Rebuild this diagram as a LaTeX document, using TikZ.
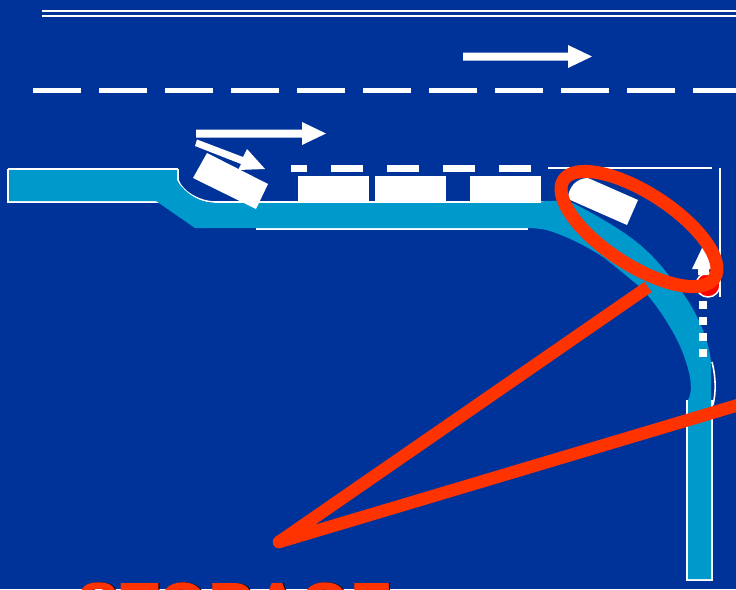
\documentclass[tikz,border=0pt]{standalone}
\usepackage{fontspec}
\setmainfont{Liberation Sans}
\definecolor{bgblue}{HTML}{003399}
\definecolor{road}{HTML}{0099CC}
\definecolor{hot}{HTML}{FF3300}
\definecolor{dotred}{HTML}{FF0000}
\tikzset{
  whiteline/.style={draw=white,line width=2.4pt},
  thinline/.style={draw=white,line width=1.6pt},
  vehicle/.style={fill=white,draw=none},
  lane/.style={draw=white,line width=5.5pt},
  bigarrow/.style={fill=white,draw=none},
  hotline/.style={draw=hot,line width=12.5pt,line join=round},
  captiontext/.style={anchor=base west,inner sep=0pt,font=\bfseries\fontsize{64}{70}\selectfont}
}
\begin{document}
\begin{tikzpicture}[x=1pt,y=-1pt]
\useasboundingbox (0,0) rectangle (736,589);
\clip (0,0) rectangle (736,589);
\fill[bgblue] (0,0) rectangle (736,589);
% top double line
\draw[white,line width=2.8pt] (42,11) -- (736,11);
\draw[white,line width=2.8pt] (42,16) -- (736,16);
% dashed lane
\foreach \a in {33,99,165,231,297,363,429,495,561,627,693}
  \draw[lane] (\a,90.5) -- ++(48,0);
% large arrows
\fill[bigarrow] (463,52.5) -- (568,52.5) -- (568,45) -- (592,56.5) -- (568,68) -- (568,60.5) -- (463,60.5) -- cycle;
\fill[bigarrow] (196,129.5) -- (302,129.5) -- (302,122) -- (326,133.5) -- (302,145) -- (302,137.5) -- (196,137.5) -- cycle;
% road outlines
\draw[whiteline] (8,169) -- (178,169);
\draw[whiteline] (178,202) -- (8,202) -- (8,169);
\draw[thinline] (178,169) -- (178,180) .. controls (182,192) and (200,202) .. (215,202) -- (545,202);
\draw[whiteline] (256,228.8) -- (528,228.8);
\draw[whiteline] (687,400) -- (687,580) -- (712,580) -- (712,400);
\draw[thinline] (712,362) .. controls (716,378) and (716,392) .. (713,405);
% road surface
\fill[road] (9,170) -- (177,170) -- (177,181)
  .. controls (186,194) and (200,203) .. (215,203)
  -- (535,203) .. controls (545,200) and (555,200) .. (573,203)
  .. controls (590,212) and (612,224) .. (630,237)
  .. controls (648,250) and (660,264) .. (670,277)
  .. controls (685,294) and (693,308) .. (700,323)
  .. controls (706,337) and (710,350) .. (711,363)
  -- (711,579) -- (688,579) -- (688,400)
  .. controls (692,392) and (691,385) .. (690,377)
  .. controls (686,358) and (679,342) .. (670,327)
  .. controls (661,312) and (651,298) .. (640,287)
  .. controls (628,277) and (616,267) .. (603,257)
  .. controls (586,246) and (570,238) .. (553,232)
  .. controls (542,228) and (532,228) .. (520,228)
  -- (195,228) -- (156,201) -- (9,201) -- cycle;
% curb dashes
\foreach \a/\b in {291/307,331/363,387/419,443/475,499/531}
  \fill[vehicle] (\a,164.5) rectangle (\b,172);
% parked cars
\foreach \a in {298,375,470}
  \fill[vehicle] (\a,176) rectangle (\a+71,203);
% tilted car and small arrow
\fill[vehicle] (207,153) -- (268,184) -- (256,209) -- (193,178) -- cycle;
\fill[bigarrow] (197,139.5) -- (243,157) -- (247,149) -- (265,169) -- (238,170) -- (241,164) -- (195,146) -- cycle;
% box at the corner
\draw[thinline] (548,168) -- (712,168);
\draw[thinline] (720,168) -- (720,297);
% turning car
\fill[vehicle] (588,178) -- (638,200) -- (627,225) -- (568,199) .. controls (568,188) and (576,178) .. (588,178) -- cycle;
% signal
\draw[draw=white,line width=1.5pt,fill=dotred] (708,285) circle (12);
\fill[bigarrow] (703,246) -- (714,269) -- (709,269) -- (709,275) -- (698,275) -- (698,269) -- (692,269) -- cycle;
\foreach \b in {305,321,337,353}
  \fill[vehicle] (699,\b-4) rectangle (707,\b+4);
% callout
\coordinate (apex) at (279,542);
\coordinate (near) at (648,287);
\coordinate (far) at (745,403);
\coordinate (ring) at (639,229);
\draw[hotline] (near) -- (apex) -- (far);
\fill[hot] (apex) circle (6.25);
\draw[draw=hot,line width=13pt,rotate around={-33:(ring)}] (ring) ellipse [x radius=90,y radius=36];
% caption
\node[captiontext,text=black] (shadow) at (78.5,627.5) {STORAGE};
\node[captiontext,text=hot] (caption) at (77.5,627.5) {STORAGE};
\end{tikzpicture}
\end{document}
